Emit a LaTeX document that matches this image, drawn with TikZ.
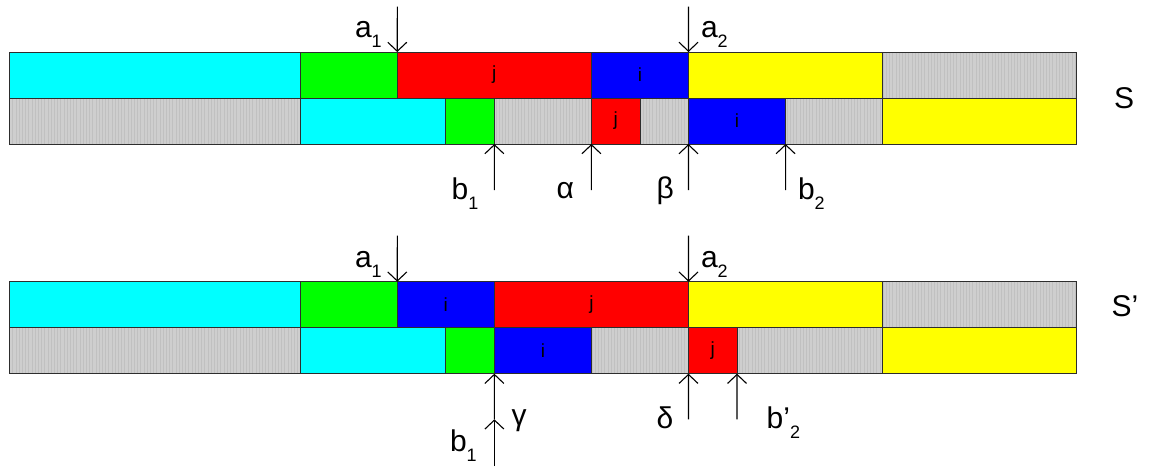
\documentclass[tikz,border=0pt]{standalone}
\usepackage{fontspec}
\setmainfont{Liberation Sans}
\usetikzlibrary{arrows.meta,patterns.meta}
\definecolor{cellborder}{RGB}{45,45,45}
\definecolor{graybase}{RGB}{206,206,206}
\definecolor{graystripe}{RGB}{192,192,192}
\definecolor{cCyan}{RGB}{0,255,255}
\definecolor{cGreen}{RGB}{0,255,0}
\definecolor{cRed}{RGB}{255,0,0}
\definecolor{cBlue}{RGB}{0,0,255}
\definecolor{cYellow}{RGB}{255,255,0}
\newcommand\lowsub[1]{\raisebox{-10pt}{\fontsize{18}{18}\selectfont #1}}
% name, k1, k2, ytop, style, label
\newcommand\cellbox[6]{%
  \pgfmathsetmacro\cbw{(#3-#2)*97.07}%
  \pgfmathsetmacro\cbx{9+#2*97.07}%
  \node[cell,#5,minimum width=\cbw pt,anchor=north west] (#1) at (\cbx,#4) {#6};}
\begin{document}
\begin{tikzpicture}[x=1pt,y=-1pt,
  cell/.style={draw=cellborder,line width=0.8pt,inner sep=0pt,outer sep=0pt,
    minimum height=46pt,font=\fontsize{19}{19}\selectfont},
  cy/.style={fill=cCyan}, gr/.style={fill=cGreen}, rd/.style={fill=cRed},
  bl/.style={fill=cBlue}, ye/.style={fill=cYellow},
  gy/.style={preaction={fill=graybase},pattern={Lines[angle=90,distance=3.2pt,line width=1pt]},pattern color=graystripe},
  lab/.style={inner sep=0pt,outer sep=0pt,anchor=base west,font=\fontsize{30}{30}\selectfont},
  arr/.style={line width=1.1pt,-{Straight Barb[length=9pt,width=19pt,line width=1.1pt]}}]
\useasboundingbox (0,0) rectangle (1151,466);
% ---------- S ----------
\cellbox{ta1}{0}{3}{52}{cy}{}
\cellbox{ta2}{3}{4}{52}{gr}{}
\cellbox{ta3}{4}{6}{52}{rd}{j}
\cellbox{ta4}{6}{7}{52}{bl}{i}
\cellbox{ta5}{7}{9}{52}{ye}{}
\cellbox{ta6}{9}{11}{52}{gy}{}
\cellbox{tb1}{0}{3}{98}{gy}{}
\cellbox{tb2}{3}{4.5}{98}{cy}{}
\cellbox{tb3}{4.5}{5}{98}{gr}{}
\cellbox{tb4}{5}{6}{98}{gy}{}
\cellbox{tb5}{6}{6.5}{98}{rd}{j}
\cellbox{tb6}{6.5}{7}{98}{gy}{}
\cellbox{tb7}{7}{8}{98}{bl}{i}
\cellbox{tb8}{8}{9}{98}{gy}{}
\cellbox{tb9}{9}{11}{98}{ye}{}
% ---------- S' ----------
\cellbox{ba1}{0}{3}{281.7}{cy}{}
\cellbox{ba2}{3}{4}{281.7}{gr}{}
\cellbox{ba3}{4}{5}{281.7}{bl}{i}
\cellbox{ba4}{5}{7}{281.7}{rd}{j}
\cellbox{ba5}{7}{9}{281.7}{ye}{}
\cellbox{ba6}{9}{11}{281.7}{gy}{}
\cellbox{bb1}{0}{3}{327.7}{gy}{}
\cellbox{bb2}{3}{4.5}{327.7}{cy}{}
\cellbox{bb3}{4.5}{5}{327.7}{gr}{}
\cellbox{bb4}{5}{6}{327.7}{bl}{i}
\cellbox{bb5}{6}{7}{327.7}{gy}{}
\cellbox{bb6}{7}{7.5}{327.7}{rd}{j}
\cellbox{bb7}{7.5}{9}{327.7}{gy}{}
\cellbox{bb8}{9}{11}{327.7}{ye}{}
% ---------- arrows S ----------
\coordinate (sa1) at (397.3,6.7);
\coordinate (sa2) at (688.5,6.7);
\coordinate (sb1) at (494.4,190);
\coordinate (sal) at (591.4,190);
\coordinate (sbe) at (688.5,190);
\coordinate (sb2) at (785.6,190);
\draw[arr] (sa1) -- (ta2.north east);
\draw[arr] (sa2) -- (ta4.north east);
\draw[arr] (sb1) -- (tb3.south east);
\draw[arr] (sal) -- (tb5.south west);
\draw[arr] (sbe) -- (tb7.south west);
\draw[arr] (sb2) -- (tb7.south east);
% ---------- arrows S' ----------
\coordinate (pa1) at (397.3,235.7);
\coordinate (pa2) at (688.5,235.7);
\coordinate (pg0) at (494.4,466);
\coordinate (pg1) at (494.4,419.3);
\coordinate (pde) at (688.5,419.3);
\coordinate (pb2) at (737,419.3);
\draw[arr] (pa1) -- (ba2.north east);
\draw[arr] (pa2) -- (ba4.north east);
\draw[arr] (pg0) -- (pg1);
\draw[arr] (pg1) -- (bb3.south east);
\draw[arr] (pde) -- (bb6.south west);
\draw[arr] (pb2) -- (bb6.south east);
% ---------- labels ----------
\node[lab] (la1) at (355,37) {a\lowsub{1}};
\node[lab] (la2) at (701,37) {a\lowsub{2}};
\node[lab] (lb1) at (451.7,199.3) {b\lowsub{1}};
\node[lab] (lal) at (556.7,198) {α};
\node[lab] (lbe) at (656.7,198) {β};
\node[lab] (lb2) at (798,199.3) {b\lowsub{2}};
\node[lab] (lS) at (1114,108.3) {S};
\node[lab] (ma1) at (355,267) {a\lowsub{1}};
\node[lab] (ma2) at (701,267) {a\lowsub{2}};
\node[lab] (mga) at (511.7,425) {γ};
\node[lab] (mb1) at (450,451.7) {b\lowsub{1}};
\node[lab] (mde) at (656.7,428) {δ};
\node[lab] (mb2) at (766.7,428) {b’\lowsub{2}};
\node[lab] (mS) at (1111.7,316.7) {S’};
\end{tikzpicture}
\end{document}
